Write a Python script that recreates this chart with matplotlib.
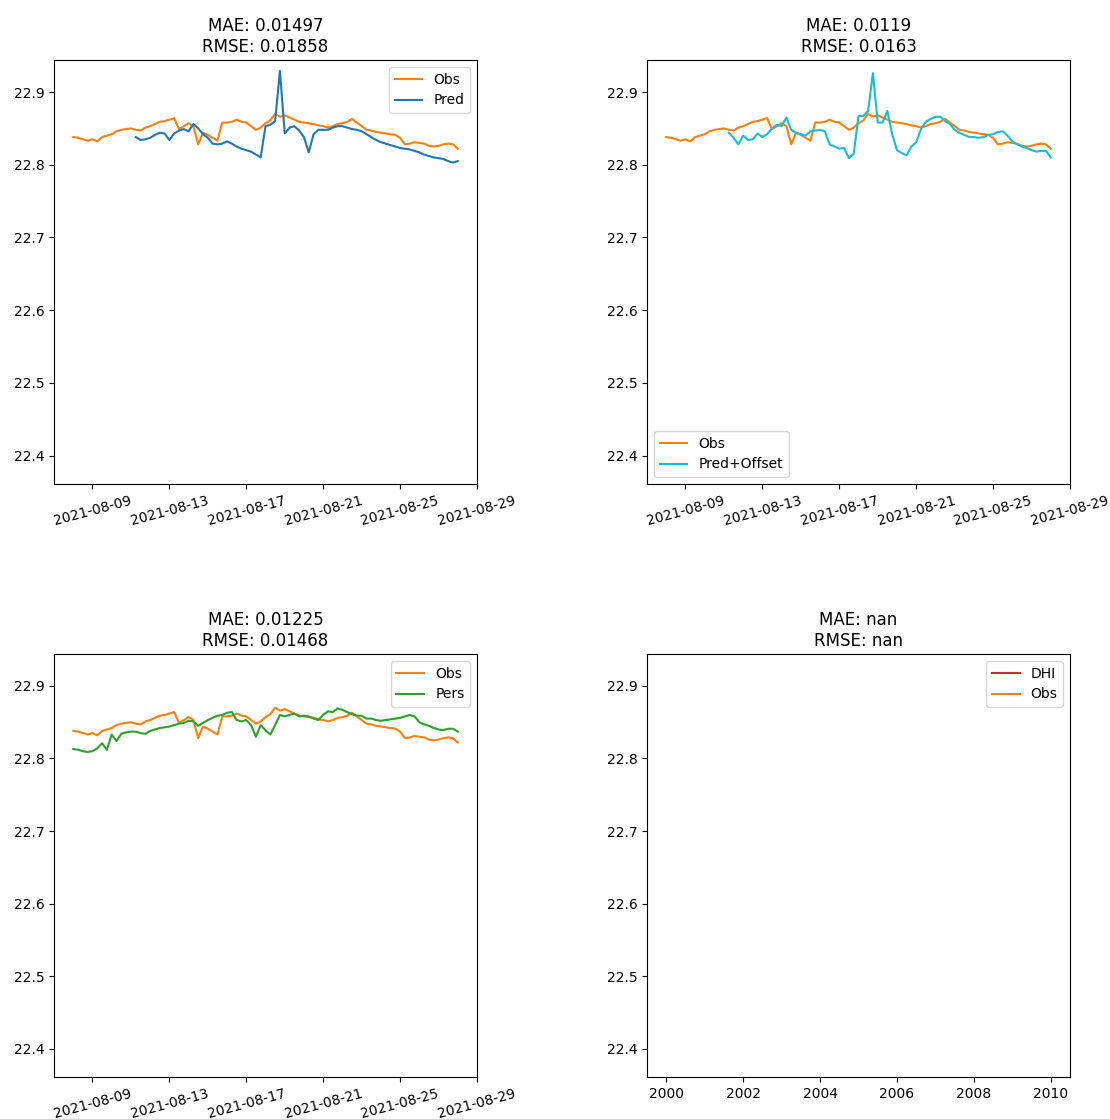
import numpy as np
import pandas as pd
import matplotlib
matplotlib.use("Agg")
import matplotlib.pyplot as plt

# 6-hourly series, observations start 2021-08-08 00:00
obs_start = "2021-08-08 00:00"
model_start = "2021-08-11 06:00"
freq = "6h"

obs = [
    22.838, 22.837, 22.835, 22.833, 22.835, 22.832, 22.838, 22.840, 22.842, 22.846,
    22.848, 22.849, 22.850, 22.848, 22.847, 22.851, 22.853, 22.856, 22.859, 22.860,
    22.862, 22.864, 22.849, 22.853, 22.857, 22.853, 22.828, 22.844, 22.841, 22.837,
    22.833, 22.858, 22.858, 22.859, 22.862, 22.859, 22.858, 22.853, 22.848, 22.851,
    22.857, 22.861, 22.870, 22.866, 22.868, 22.865, 22.862, 22.859, 22.858, 22.857,
    22.856, 22.854, 22.853, 22.851, 22.853, 22.856, 22.857, 22.859, 22.863, 22.858,
    22.853, 22.848, 22.847, 22.845, 22.844, 22.843, 22.842, 22.841, 22.837, 22.828,
    22.829, 22.831, 22.830, 22.829, 22.826, 22.825, 22.826, 22.828, 22.829, 22.828,
    22.822,
]

pred = [
    22.838, 22.834, 22.835, 22.837, 22.841, 22.844, 22.843, 22.834, 22.843, 22.847,
    22.849, 22.846, 22.856, 22.850, 22.842, 22.837, 22.829, 22.828, 22.829, 22.832,
    22.829, 22.825, 22.822, 22.820, 22.818, 22.814, 22.810, 22.853, 22.855, 22.860,
    22.929, 22.843, 22.851, 22.853, 22.847, 22.838, 22.817, 22.842, 22.848, 22.848,
    22.848, 22.851, 22.853, 22.853, 22.851, 22.849, 22.848, 22.846, 22.842, 22.838,
    22.834, 22.831, 22.829, 22.827, 22.825, 22.823, 22.822, 22.821, 22.819, 22.817,
    22.814, 22.812, 22.810, 22.809, 22.808, 22.805, 22.803, 22.805,
]

pred_offset = [
    22.844, 22.837, 22.828, 22.840, 22.834, 22.835, 22.843, 22.838, 22.842, 22.850,
    22.855, 22.853, 22.865, 22.848, 22.844, 22.842, 22.840, 22.846, 22.847, 22.848,
    22.846, 22.828, 22.825, 22.822, 22.823, 22.809, 22.815, 22.867, 22.867, 22.874,
    22.926, 22.858, 22.858, 22.874, 22.842, 22.820, 22.816, 22.813, 22.825, 22.831,
    22.849, 22.859, 22.863, 22.866, 22.866, 22.860, 22.856, 22.848, 22.844, 22.841,
    22.838, 22.838, 22.837, 22.838, 22.841, 22.842, 22.845, 22.846, 22.840, 22.832,
    22.828, 22.825, 22.823, 22.820, 22.818, 22.819, 22.819, 22.810,
]

pers = [
    22.813, 22.812, 22.810, 22.809, 22.810, 22.814, 22.821, 22.812, 22.833, 22.824,
    22.834, 22.836, 22.837, 22.837, 22.835, 22.834, 22.838, 22.840, 22.842, 22.843,
    22.844, 22.846, 22.848, 22.849, 22.852, 22.851, 22.845, 22.849, 22.853, 22.856,
    22.859, 22.860, 22.863, 22.864, 22.853, 22.851, 22.853, 22.846, 22.830, 22.846,
    22.839, 22.833, 22.846, 22.860, 22.858, 22.860, 22.862, 22.858, 22.859, 22.858,
    22.855, 22.853, 22.860, 22.865, 22.864, 22.869, 22.867, 22.864, 22.861, 22.859,
    22.859, 22.855, 22.855, 22.853, 22.852, 22.853, 22.854, 22.855, 22.856, 22.858,
    22.860, 22.858, 22.850, 22.847, 22.845, 22.842, 22.840, 22.839, 22.841, 22.841,
    22.837,
]

titles = [
    ("0.01497", "0.01858"),
    ("0.0119", "0.0163"),
    ("0.01225", "0.01468"),
    ("nan", "nan"),
]

t_obs = pd.date_range(obs_start, periods=len(obs), freq=freq)
t_model = pd.date_range(model_start, periods=len(pred), freq=freq)
t_off = pd.date_range(model_start, periods=len(pred_offset), freq=freq)
t_pers = pd.date_range(obs_start, periods=len(pers), freq=freq)

W, H = 1110, 1119
fig = plt.figure(figsize=(W / 100, H / 100), dpi=100)

def box(left, top, right, bottom):
    return [left / W, 1 - bottom / H, (right - left) / W, (bottom - top) / H]

ax1 = fig.add_axes(box(54, 60, 477, 484))
ax2 = fig.add_axes(box(647, 60, 1070, 484))
ax3 = fig.add_axes(box(54, 654, 477, 1077))
ax4 = fig.add_axes(box(647, 654, 1070, 1077))

ax1.plot(t_obs, obs, color="C1", label="Obs")
ax1.plot(t_model, pred, color="C0", label="Pred")
ax1.legend(loc="upper right")

ax2.plot(t_obs, obs, color="C1", label="Obs")
ax2.plot(t_off, pred_offset, color="C9", label="Pred+Offset")
ax2.legend(loc="lower left")

ax3.plot(t_obs, obs, color="C1", label="Obs")
ax3.plot(t_pers, pers, color="C2", label="Pers")
ax3.legend(loc="upper right")

# No DHI data: empty date axis falls back to the 2000-2010 default span
empty_t = np.array([], dtype="datetime64[ns]")
ax4.plot(empty_t, np.array([]), color="C3", label="DHI")
ax4.plot(empty_t, np.array([]), color="C1", label="Obs")
ax4.set_xlim(pd.Timestamp("1999-07-02"), pd.Timestamp("2010-07-02"))
ax4.legend(loc="upper right")

for ax, (mae, rmse) in zip([ax1, ax2, ax3, ax4], titles):
    ax.set_title(f"MAE: {mae}\nRMSE: {rmse}")
    ax.set_ylim(22.361, 22.944)

for ax in (ax1, ax2, ax3):
    for lbl in ax.get_xticklabels():
        lbl.set_rotation(15)
        lbl.set_ha("center")

fig.savefig("out.png", dpi=100)
